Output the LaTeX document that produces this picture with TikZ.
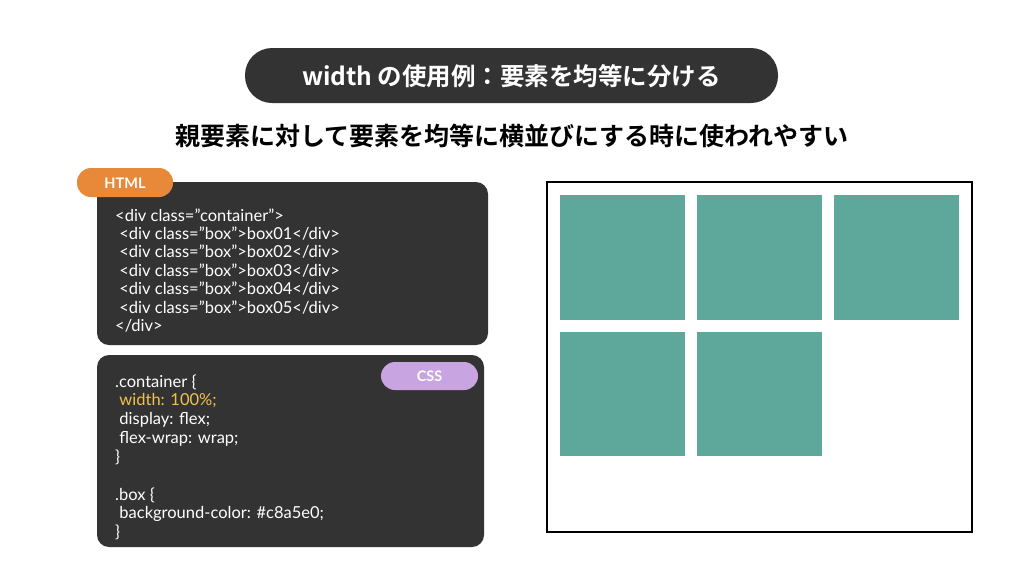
\documentclass[tikz,border=0pt]{standalone}
\usepackage{fontspec}
\setmainfont{Lato}
\newfontfamily\jpfont{Noto Sans CJK JP}[BoldFont={Noto Sans CJK JP Bold}]
\usetikzlibrary{positioning}
\definecolor{panel}{HTML}{333333}
\definecolor{htmltag}{HTML}{E8893A}
\definecolor{csstag}{HTML}{C8A5E0}
\definecolor{hilite}{HTML}{F2C14E}
\definecolor{boxfill}{HTML}{5DA89A}
\tikzstyle{pill}=[rounded corners=14pt, inner sep=0, font=\bfseries\fontsize{14.5}{14}\selectfont, text=white]
\tikzstyle{code}=[anchor=west, inner sep=0, text=white, font=\fontsize{16.5}{17}\selectfont]
\tikzstyle{tile}=[fill=boxfill, draw=none]
\begin{document}
\begin{tikzpicture}[x=1pt, y=-1pt]
        \useasboundingbox (0,0) rectangle (1024,574);
        % title
        \fill[panel, rounded corners=27pt] (245,48) rectangle (778,103);
        \node[text=white, font=\jpfont\bfseries\fontsize{24.5}{25}\selectfont] (title) at (511.5,76) {width の使用例：要素を均等に分ける};
        \node[font=\jpfont\bfseries\fontsize{25}{25}\selectfont] (sub) at (512,136) {親要素に対して要素を均等に横並びにする時に使われやすい};
        % html panel
        \fill[panel, rounded corners=12pt] (97,182) rectangle (488,345);
        \fill[htmltag, rounded corners=14pt] (77,168) rectangle (173,197);
        \node[pill] (html) at (125,183) {HTML};
        \node[code] (h1) at (115,215) {<div class=”container”>};
        \node[code] (h2) at (115,233.5) {\ <div class=”box”>box01</div>};
        \node[code] (h3) at (115,252) {\ <div class=”box”>box02</div>};
        \node[code] (h4) at (115,270.5) {\ <div class=”box”>box03</div>};
        \node[code] (h5) at (115,289) {\ <div class=”box”>box04</div>};
        \node[code] (h6) at (115,307.5) {\ <div class=”box”>box05</div>};
        \node[code] (h7) at (115,326) {</div>};
        % css panel
        \fill[panel, rounded corners=12pt] (97,355) rectangle (484,547);
        \fill[csstag, rounded corners=14pt] (381,362) rectangle (478,390);
        \node[pill] (css) at (429.5,376) {CSS};
        \node[code] (c1) at (115,382) {.container \{};
        \node[code, text=hilite] (c2) at (115,401) {\ width: 100\%;};
        \node[code] (c3) at (115,420) {\ display: flex;};
        \node[code] (c4) at (115,438.5) {\ flex-wrap: wrap;};
        \node[code] (c5) at (115,457) {\}};
        \node[code] (c6) at (115,495) {.box \{};
        \node[code] (c7) at (115,514) {\ background-color: \#c8a5e0;};
        \node[code] (c8) at (115,532) {\}};
        % preview
        \draw[line width=2.5pt] (547,182) rectangle (972,532);
        \foreach \x in {560,697,834}
            \fill[tile] (\x,195) rectangle ++(125,125);
        \foreach \x in {560,697}
            \fill[tile] (\x,332) rectangle ++(125,124);
    \end{tikzpicture}
\end{document}
